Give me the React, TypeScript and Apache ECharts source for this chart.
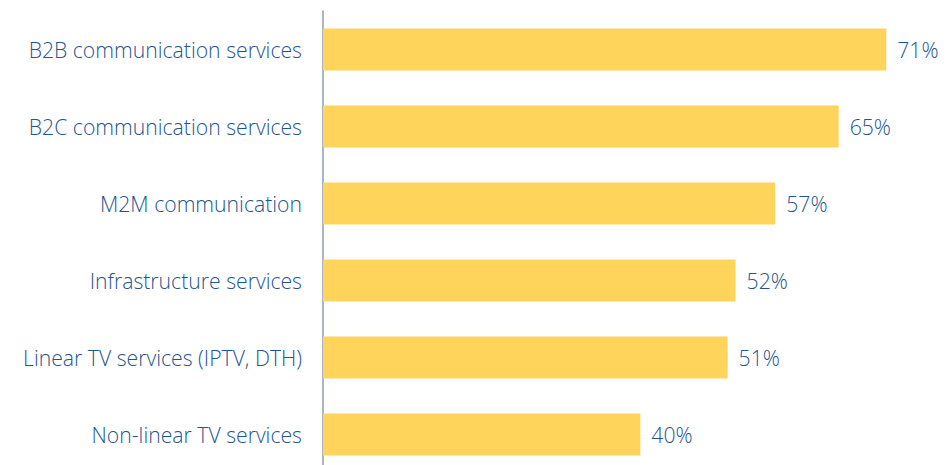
import React, { useEffect, useRef } from "react";
import * as echarts from "echarts";

const categories = [
  "B2B communication services",
  "B2C communication services",
  "M2M communication",
  "Infrastructure services",
  "Linear TV services (IPTV, DTH)",
  "Non-linear TV services",
];
const values = [71, 65, 57, 52, 51, 40];

const FONT = "'Open Sans', 'Liberation Sans', sans-serif";

export default function App() {
  const ref = useRef<HTMLDivElement>(null);
  useEffect(() => {
    if (!ref.current) return;
    const chart = echarts.init(ref.current, undefined, { renderer: "svg" });
    chart.setOption({
      animation: false,
      grid: { left: 323, right: 34, top: 11, bottom: 0, containLabel: false },
      xAxis: {
        type: "value",
        min: 0,
        max: 75,
        show: false,
      },
      yAxis: {
        type: "category",
        inverse: true,
        data: categories,
        axisLine: { show: true, lineStyle: { color: "#8e9cb6", width: 1.5 } },
        axisTick: { show: false },
        axisLabel: {
          margin: 21,
          color: "#1f558f",
          fontSize: 21.2,
          fontFamily: FONT,
          fontWeight: 300,
        },
      },
      series: [
        {
          type: "bar",
          data: values,
          barWidth: 42,
          itemStyle: { color: "#ffd45a" },
          label: {
            show: true,
            position: "right",
            distance: 11,
            formatter: "{c}%",
            color: "#1f558f",
            fontSize: 21.2,
            fontFamily: FONT,
            fontWeight: 300,
          },
        },
      ],
    });
    return () => chart.dispose();
  }, []);
  return (
    <div style={{ position: "absolute", left: 0, top: 0, width: 952, height: 465, overflow: "hidden" }}>
      <div ref={ref} style={{ width: 952, height: 472.5 }} />
    </div>
  );
}
